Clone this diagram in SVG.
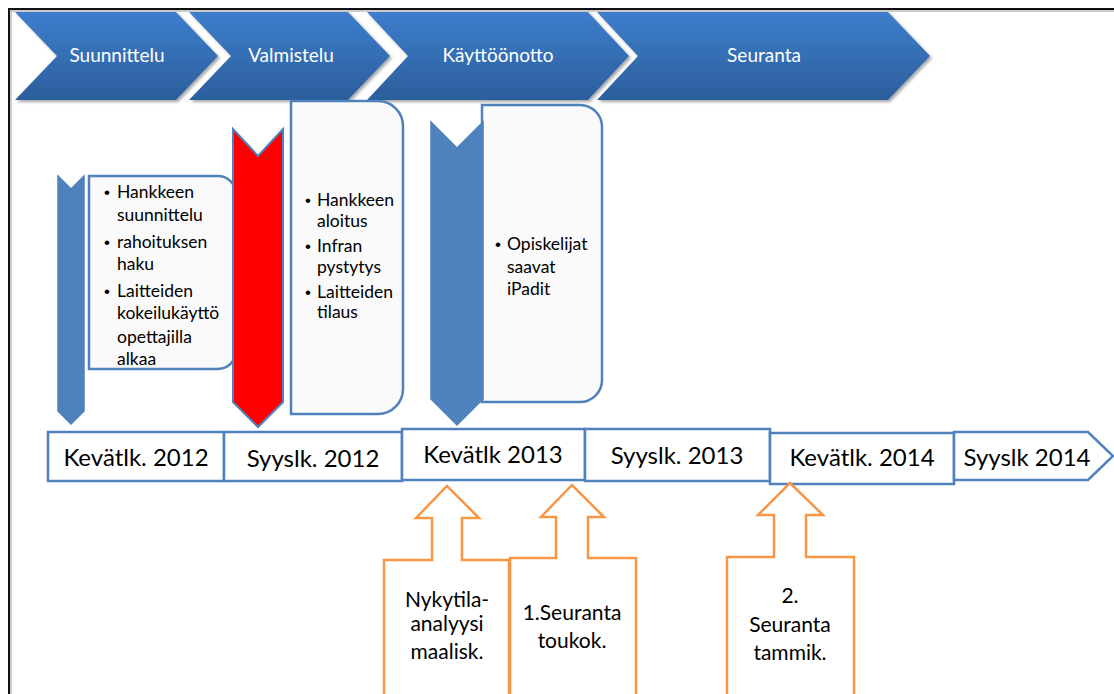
<svg xmlns="http://www.w3.org/2000/svg" width="1114" height="694" viewBox="0 0 1114 694">
<defs>
<linearGradient id="chev" x1="0" y1="0" x2="0" y2="1">
<stop offset="0" stop-color="#3d7ecc"/>
<stop offset="1" stop-color="#2c5e9c"/>
</linearGradient>
<filter id="sh" x="-5%" y="-10%" width="115%" height="130%">
<feDropShadow dx="2" dy="2" stdDeviation="1.8" flood-color="#000" flood-opacity="0.35"/>
</filter>
</defs>
<style>
.chev{fill:url(#chev);filter:url(#sh)}
.ct{font-family:Lato,"Liberation Sans",sans-serif;font-size:19px;fill:#fff;text-anchor:middle}
.box{fill:#fafafa;stroke:#4f81bd;stroke-width:2.5}
.bt{font-family:Lato,"Liberation Sans",sans-serif;font-size:17.5px;fill:#000}
.bu{font-family:"Liberation Sans",sans-serif;font-size:17px;fill:#000}
.darr{fill:#4f81bd;stroke:#4f81bd;stroke-width:1.5}
.tl{fill:#fff;stroke:#4f81bd;stroke-width:2.5}
.tt{font-family:Lato,"Liberation Sans",sans-serif;font-size:24px;fill:#000;text-anchor:middle}
.oa{fill:#fff;stroke:#f79646;stroke-width:2.5;stroke-linejoin:miter}
.ot{font-family:Lato,"Liberation Sans",sans-serif;font-size:21px;fill:#000;text-anchor:middle}
</style>
<rect x="0" y="0" width="1114" height="694" fill="#fff"/>
<rect x="9" y="9" width="1120" height="700" fill="none" stroke="#111" stroke-width="2"/>
<rect x="11" y="11" width="1116" height="696" fill="none" stroke="#999" stroke-width="1"/>

<g id="phase-suunnittelu">
<polygon class="chev" points="15,12 176,12 218,56 176,100 15,100 57,56"/>
<text class="ct" x="117" y="62">Suunnittelu</text>
</g>
<g id="phase-valmistelu">
<polygon class="chev" points="189,12 348,12 390,56 348,100 189,100 231,56"/>
<text class="ct" x="291" y="62">Valmistelu</text>
</g>
<g id="phase-kayttoonotto">
<polygon class="chev" points="367,12 588,12 629,56 588,100 367,100 408,56"/>
<text class="ct" x="498" y="62">Käyttöönotto</text>
</g>
<g id="phase-seuranta">
<polygon class="chev" points="597,12 888,12 930,56 888,100 597,100 638,56"/>
<text class="ct" x="764" y="62">Seuranta</text>
</g>

<g id="box-suunnittelu">
<path class="box" d="M89,176 H218 A18,18 0 0 1 236,194 V351 A18,18 0 0 1 218,369 H89 Z"/>
<text class="bu" x="104" y="198">•</text><text class="bt" x="117" y="198">Hankkeen</text>
<text class="bt" x="117" y="221">suunnittelu</text>
<text class="bu" x="104" y="248">•</text><text class="bt" x="117" y="248">rahoituksen</text>
<text class="bt" x="117" y="270">haku</text>
<text class="bu" x="104" y="297">•</text><text class="bt" x="117" y="297">Laitteiden</text>
<text class="bt" x="117" y="319">kokeilukäyttö</text>
<text class="bt" x="117" y="343">opettajilla</text>
<text class="bt" x="117" y="365">alkaa</text>
</g>
<g id="marker-1">
<polygon class="darr" points="58,176 71,189 84,176 84,411 71,424 58,411"/>
</g>
<g id="marker-2">
<polygon points="233,129 258,156 283,129 283,402 258,427 233,402" fill="#ff0000" stroke="#4f81bd" stroke-width="2"/>
</g>
<g id="box-valmistelu">
<path class="box" d="M291,101 H378 A25,25 0 0 1 403,126 V389 A25,25 0 0 1 378,414 H291 Z"/>
<text class="bu" x="305" y="206">•</text><text class="bt" x="317" y="206">Hankkeen</text>
<text class="bt" x="317" y="227">aloitus</text>
<text class="bu" x="305" y="252">•</text><text class="bt" x="317" y="252">Infran</text>
<text class="bt" x="317" y="273">pystytys</text>
<text class="bu" x="305" y="298">•</text><text class="bt" x="317" y="298">Laitteiden</text>
<text class="bt" x="317" y="318">tilaus</text>
</g>
<g id="box-kayttoonotto">
<path class="box" d="M482,105 H580 A22,22 0 0 1 602,127 V380 A22,22 0 0 1 580,402 H482 Z"/>
<text class="bu" x="495" y="250">•</text><text class="bt" x="507" y="250">Opiskelijat</text>
<text class="bt" x="507" y="273">saavat</text>
<text class="bt" x="507" y="295">iPadit</text>
</g>
<g id="marker-3">
<polygon class="darr" points="431,122 457,148 483,122 483,399 457,425 431,399"/>
</g>

<g id="timeline">
<g id="t1"><rect class="tl" x="48" y="432" width="176" height="49"/><text class="tt" x="136" y="466">Kevätlk. 2012</text></g>
<g id="t2"><rect class="tl" x="224" y="432" width="178" height="49"/><text class="tt" x="313" y="467">Syyslk. 2012</text></g>
<g id="t3"><rect class="tl" x="402" y="429" width="183" height="51"/><text class="tt" x="493" y="463">Kevätlk 2013</text></g>
<g id="t4"><rect class="tl" x="585" y="429" width="185" height="52"/><text class="tt" x="677" y="464">Syyslk. 2013</text></g>
<g id="t5"><rect class="tl" x="770" y="433" width="184" height="51"/><text class="tt" x="862" y="466">Kevätlk. 2014</text></g>
<g id="t6"><polygon class="tl" points="954,432 1088,432 1113,456 1088,480 954,480"/><text class="tt" x="1027" y="466">Syyslk 2014</text></g>
</g>

<g id="callout-nykytila">
<path class="oa" d="M384,700 V560 H432 V518 H416 L447,486 L479,518 H462 V560 H509 V700"/>
<text class="ot" x="447" y="607">Nykytila-</text>
<text class="ot" x="447" y="631">analyysi</text>
<text class="ot" x="447" y="659">maalisk.</text>
</g>
<g id="callout-seuranta1">
<path class="oa" d="M510,700 V558 H556 V517 H541 L572,485 L604,517 H588 V558 H636 V700"/>
<text class="ot" x="572" y="620">1.Seuranta</text>
<text class="ot" x="572" y="648">toukok.</text>
</g>
<g id="callout-seuranta2">
<path class="oa" d="M727,700 V557 H774 V515 H758 L790,483 L823,515 H806 V557 H854 V700"/>
<text class="ot" x="790" y="603">2.</text>
<text class="ot" x="790" y="632">Seuranta</text>
<text class="ot" x="790" y="660">tammik.</text>
</g>
</svg>
